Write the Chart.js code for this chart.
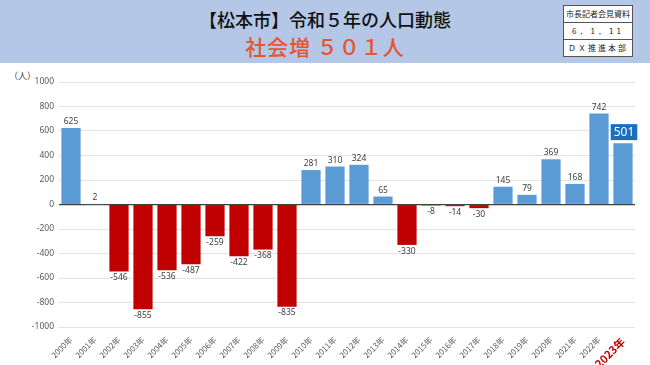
<!DOCTYPE html>
<html>
<head>
<meta charset="utf-8">
<script src="https://cdn.jsdelivr.net/npm/chart.js@4"></script>
<style>
  body { margin: 0; width: 650px; height: 365px; overflow: hidden; background: #fff; font-family: "Noto Sans CJK JP", sans-serif; }
  .header { position: absolute; left: 0; top: 0; width: 650px; height: 63px; background: #b4c7e7; }
  .title { position: absolute; left: 0; width: 650px; top: 6px; text-align: center; font-size: 18px; color: #111; font-weight: 500; }
  .sub { position: absolute; left: 0; width: 650px; top: 31px; text-align: center; font-size: 21px; color: #e9542a; letter-spacing: 1px; font-weight: 500; }
  .stamp { position: absolute; left: 563px; top: 5px; width: 68px; border: 1px solid #555; background: #fff; font-size: 8px; color: #222; }
  .stamp div { height: 16px; line-height: 16px; border-bottom: 1px solid #555; text-align: center; }
  .stamp div:last-child { border-bottom: none; }
  .wrap { position: absolute; left: 0; top: 63px; width: 650px; height: 302px; }
  .unit { position: absolute; left: 9px; top: 69px; font-size: 9px; color: #444; }
</style>
</head>
<body>
<div class="header">
  <div class="title">【松本市】令和５年の人口動態</div>
  <div class="sub">社会増 ５０１人</div>
  <div class="stamp">
    <div>市長記者会見資料</div>
    <div style="letter-spacing:3px">6．1．11</div>
    <div style="letter-spacing:2px">ＤＸ推進本部</div>
  </div>
</div>
<div class="unit">（人）</div>
<div class="wrap"><canvas id="chart" width="650" height="302"></canvas></div>
<script>
const years = ['2000年','2001年','2002年','2003年','2004年','2005年','2006年','2007年','2008年','2009年',
  '2010年','2011年','2012年','2013年','2014年','2015年','2016年','2017年','2018年','2019年',
  '2020年','2021年','2022年','2023年'];
const socialChange = [625, 2, -546, -855, -536, -487, -259, -422, -368, -835,
  281, 310, 324, 65, -330, -8, -14, -30, 145, 79,
  369, 168, 742, 501];
const yTicks = [1000, 800, 600, 400, 200, 0, -200, -400, -600, -800, -1000];

const BLUE = '#5b9bd5', RED = '#c00000';

// draws value labels above / below each bar
const valueLabels = {
  id: 'valueLabels',
  afterDatasetsDraw(chart) {
    const ctx = chart.ctx;
    const meta = chart.getDatasetMeta(0);
    ctx.save();
    ctx.textAlign = 'center';
    meta.data.forEach((bar, i) => {
      const v = socialChange[i];
      const last = i === socialChange.length - 1;
      if (last) {
        ctx.font = '12px "Noto Sans", sans-serif';
        const w = ctx.measureText(String(v)).width + 6;
        ctx.fillStyle = '#1a6fbf';
        ctx.fillRect(bar.x - w / 2 + 1, bar.y - 19, w, 16);
        ctx.fillStyle = '#fff';
        ctx.textBaseline = 'middle';
        ctx.fillText(String(v), bar.x + 1, bar.y - 11);
        return;
      }
      ctx.font = '8.5px "Noto Sans", sans-serif';
      ctx.fillStyle = '#404040';
      if (v >= 0) {
        ctx.textBaseline = 'bottom';
        ctx.fillText(String(v), bar.x, bar.y - 2);
      } else {
        ctx.textBaseline = 'top';
        ctx.fillText(String(v), bar.x, bar.y + 2);
      }
    });
    ctx.restore();
  }
};

new Chart(document.getElementById('chart'), {
  type: 'bar',
  data: {
    labels: years,
    datasets: [{
      data: socialChange,
      backgroundColor: socialChange.map(v => v >= 0 ? BLUE : RED),
      borderWidth: 0,
      barPercentage: 0.8,
      categoryPercentage: 1.0
    }]
  },
  options: {
    responsive: false,
    animation: false,
    layout: { padding: { top: 19, right: 15, left: 0, bottom: 0 } },
    plugins: { legend: { display: false }, tooltip: { enabled: false } },
    scales: {
      x: {
        grid: { display: false },
        border: { display: false },
        afterFit: s => { s.height = 38; },
        ticks: {
          maxRotation: 45, minRotation: 45, autoSkip: false, padding: 0,
          color: ctx => ctx.index === years.length - 1 ? '#c00000' : '#595959',
          font: ctx => ctx.index === years.length - 1
            ? { size: 11, weight: 'bold', family: '"Noto Sans CJK JP", sans-serif' }
            : { size: 8, family: '"Noto Sans CJK JP", sans-serif' }
        }
      },
      y: {
        min: -1000, max: 1000,
        afterFit: s => { s.width = 59; },
        afterBuildTicks: s => { s.ticks = yTicks.map(v => ({ value: v })); },
        border: { display: false },
        grid: {
          color: ctx => ctx.tick && ctx.tick.value === 0 ? '#404040' : '#e3e3e3',
          lineWidth: ctx => ctx.tick && ctx.tick.value === 0 ? 1.2 : 1,
          drawTicks: false
        },
        ticks: {
          padding: 5,
          color: '#595959',
          font: { size: 8.5, family: '"Noto Sans", sans-serif' },
          callback: v => String(v)
        }
      }
    }
  },
  plugins: [valueLabels]
});
</script>
</body>
</html>
